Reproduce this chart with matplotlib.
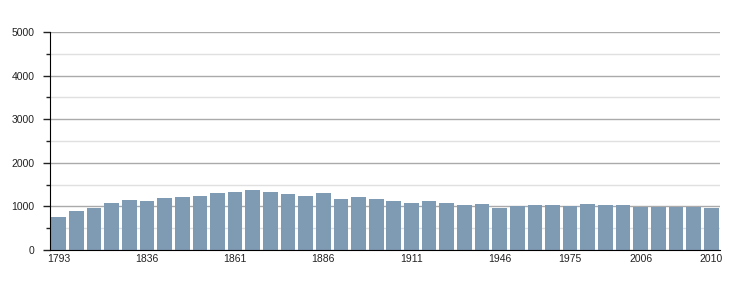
import numpy as np
import matplotlib
matplotlib.use('Agg')
import matplotlib.pyplot as plt
from matplotlib.ticker import MultipleLocator

years = ['1793', '1800', '1806', '1821', '1831', '1836', '1841', '1846', '1851', '1856',
         '1861', '1866', '1872', '1876', '1881', '1886', '1891', '1896', '1901', '1906',
         '1911', '1921', '1926', '1931', '1936', '1946', '1954', '1962', '1968', '1975',
         '1982', '1990', '1999', '2006', '2007', '2008', '2009', '2010']
population = [760, 890, 960, 1080, 1140, 1120, 1190, 1210, 1235, 1300,
              1325, 1370, 1325, 1285, 1235, 1300, 1165, 1210, 1165, 1120,
              1080, 1120, 1080, 1030, 1050, 960, 1005, 1030, 1030, 1005,
              1050, 1030, 1030, 985, 985, 985, 985, 960]
labelled_years = ['1793', '1836', '1861', '1886', '1911', '1946', '1975', '2006', '2010']

plt.rcParams['font.family'] = ['Liberation Sans', 'DejaVu Sans']

fig = plt.figure(figsize=(7.5, 3), dpi=100)
ax = fig.add_axes([50 / 750, 50 / 300, 670 / 750, 218 / 300])

x = np.arange(len(years))
ax.bar(x, population, width=0.83, color='#7f9ab3', zorder=3)

ax.set_xlim(-0.5, len(years) - 0.5)
ax.set_ylim(0, 5000)
ax.yaxis.set_major_locator(MultipleLocator(1000))
ax.yaxis.set_minor_locator(MultipleLocator(500))
ax.grid(axis='y', which='major', color='#aaaaaa', linewidth=1, zorder=0)
ax.grid(axis='y', which='minor', color='#e0e0e0', linewidth=1, zorder=0)

tick_pos = [years.index(y) for y in labelled_years]
ax.set_xticks(tick_pos)
ax.set_xticklabels(labelled_years)
ax.tick_params(axis='x', length=0, pad=3, labelsize=7.5, colors='#222222')
ax.tick_params(axis='y', which='major', length=5, width=1, pad=6, labelsize=7.5, colors='#222222')
ax.tick_params(axis='y', which='minor', length=3, width=1, color='#222222')

for side in ['top', 'right']:
    ax.spines[side].set_visible(False)
ax.spines['left'].set_color('black')
ax.spines['bottom'].set_color('black')
ax.spines['left'].set_zorder(4)
ax.spines['bottom'].set_zorder(4)

fig.savefig('out.png', dpi=100)
